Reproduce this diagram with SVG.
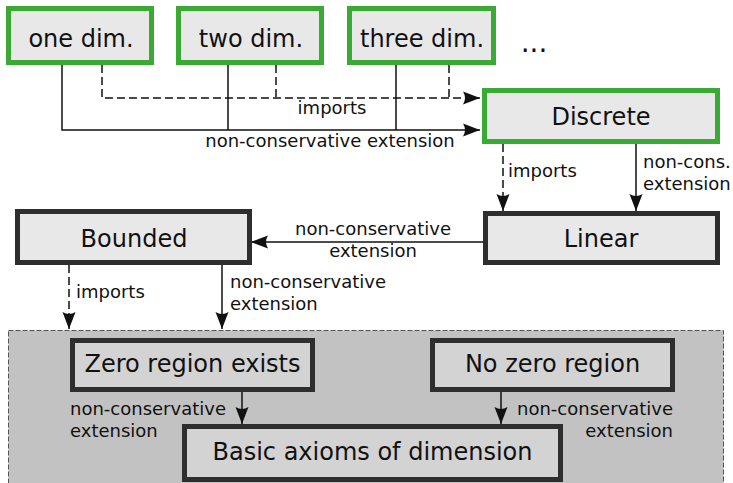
<svg xmlns="http://www.w3.org/2000/svg" width="733" height="483" viewBox="0 0 733 483">
<style>
text{font-family:"DejaVu Sans","Liberation Sans",sans-serif;fill:#111}
.nl{font-size:24px;text-anchor:middle}
.el{font-size:18px}
.g{fill:#e8e8e8;stroke:#3aaa35;stroke-width:5}
.d{fill:#e8e8e8;stroke:#2e2e2e;stroke-width:5}
.b{fill:#d3d3d3;stroke:#2e2e2e;stroke-width:5}
.c{fill:none;stroke:#111;stroke-width:1.5}
.dash{stroke-dasharray:8,4}
</style>
<defs>
<marker id="ah" markerUnits="userSpaceOnUse" markerWidth="20" markerHeight="16" viewBox="-18 -8 20 16" refX="0" refY="0" orient="auto">
<path d="M0,0 L-17,-6.5 Q-13,0 -17,6.5 Z" fill="#111"/>
</marker>
</defs>
<g id="container">
<rect x="8.5" y="330.5" width="715" height="170" fill="#c2c2c2" stroke="#555" stroke-width="1" stroke-dasharray="5,2"/>
</g>
<g id="connectors">
<path class="c" d="M62,65 V130 H480" marker-end="url(#ah)"/>
<path class="c" d="M228,65 V130"/>
<path class="c" d="M396,65 V130"/>
<path class="c dash" d="M102,65 V98 H480" marker-end="url(#ah)"/>
<path class="c dash" d="M276,65 V98"/>
<path class="c dash" d="M449,65 V98"/>
<path class="c dash" d="M503,144 V211" marker-end="url(#ah)"/>
<path class="c" d="M636,144 V211" marker-end="url(#ah)"/>
<path class="c" d="M483,242 H251" marker-end="url(#ah)"/>
<path class="c dash" d="M69,265 V329" marker-end="url(#ah)"/>
<path class="c" d="M222,265 V329" marker-end="url(#ah)"/>
<path class="c" d="M242,392 V424" marker-end="url(#ah)"/>
<path class="c" d="M501,392 V424" marker-end="url(#ah)"/>
<text class="el" x="332" y="114" text-anchor="middle">imports</text>
<text class="el" x="330" y="147" text-anchor="middle">non-conservative extension</text>
<text class="el" x="508" y="177">imports</text>
<text class="el" x="643" y="168">non-cons.</text>
<text class="el" x="643" y="190">extension</text>
<text class="el" x="373" y="235" text-anchor="middle">non-conservative</text>
<text class="el" x="373" y="257" text-anchor="middle">extension</text>
<text class="el" x="76" y="298">imports</text>
<text class="el" x="230" y="288">non-conservative</text>
<text class="el" x="230" y="310">extension</text>
<text class="el" x="70" y="415">non-conservative</text>
<text class="el" x="70" y="437">extension</text>
<text class="el" x="673" y="415" text-anchor="end">non-conservative</text>
<text class="el" x="673" y="437" text-anchor="end">extension</text>
</g>
<g id="one-dim"><rect class="g" x="8.5" y="8.5" width="143" height="54"/><text class="nl" x="81" y="47">one dim.</text></g>
<g id="two-dim"><rect class="g" x="178.5" y="8.5" width="143" height="54"/><text class="nl" x="251" y="47">two dim.</text></g>
<g id="three-dim"><rect class="g" x="349.5" y="8.5" width="144" height="54"/><text class="nl" x="422" y="47">three dim.</text></g>
<g id="ellipsis"><text x="534" y="52" style="font-size:28px;text-anchor:middle">...</text></g>
<g id="discrete"><rect class="g" x="484.5" y="90.5" width="233" height="51"/><text class="nl" x="601" y="125">Discrete</text></g>
<g id="linear"><rect class="d" x="485.5" y="213.5" width="232" height="49"/><text class="nl" x="601" y="247">Linear</text></g>
<g id="bounded"><rect class="d" x="17.5" y="211.5" width="232" height="51"/><text class="nl" x="134" y="247">Bounded</text></g>
<g id="zero-region"><rect class="b" x="72.5" y="340.5" width="240" height="49"/><text class="nl" x="192.5" y="372">Zero region exists</text></g>
<g id="no-zero-region"><rect class="b" x="432.5" y="340.5" width="240" height="49"/><text class="nl" x="552.5" y="372">No zero region</text></g>
<g id="basic-axioms"><rect class="b" x="184.5" y="426.5" width="376" height="53"/><text class="nl" x="372.5" y="460">Basic axioms of dimension</text></g>
</svg>
